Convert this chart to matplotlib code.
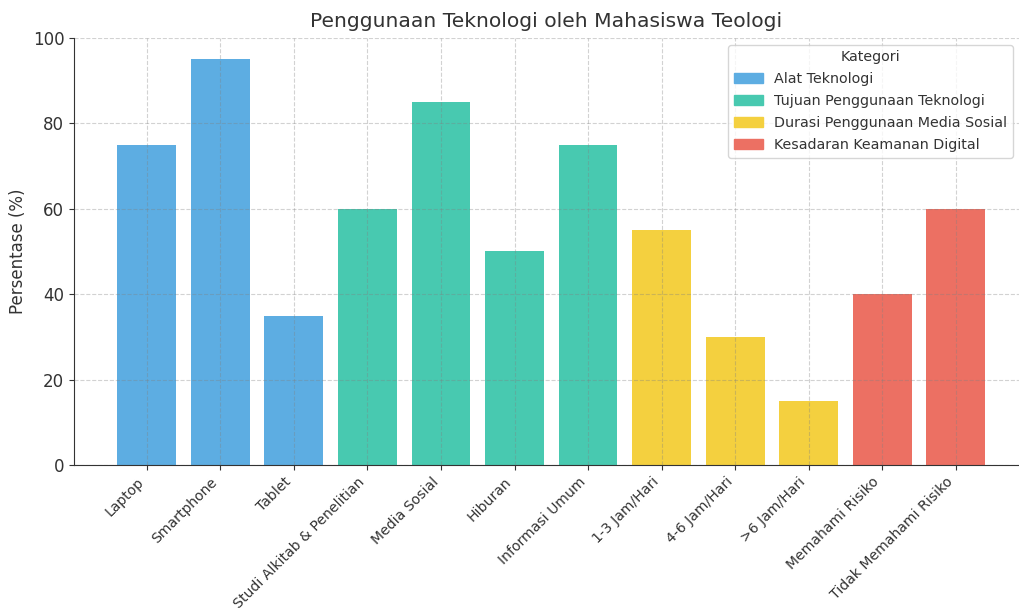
import matplotlib.pyplot as plt
from matplotlib.patches import Patch

labels = ["Laptop", "Smartphone", "Tablet", "Studi Alkitab & Penelitian", "Media Sosial",
          "Hiburan", "Informasi Umum", "1-3 Jam/Hari", "4-6 Jam/Hari", ">6 Jam/Hari",
          "Memahami Risiko", "Tidak Memahami Risiko"]
values = [75, 95, 35, 60, 85, 50, 75, 55, 30, 15, 40, 60]
groups = [0, 0, 0, 1, 1, 1, 1, 2, 2, 2, 3, 3]
group_names = ["Alat Teknologi", "Tujuan Penggunaan Teknologi",
               "Durasi Penggunaan Media Sosial", "Kesadaran Keamanan Digital"]
group_colors = ["#5DADE2", "#48C9B0", "#F4D03F", "#EC7063"]

plt.rcParams['text.color'] = '#333333'
plt.rcParams['axes.labelcolor'] = '#333333'
plt.rcParams['xtick.color'] = '#333333'
plt.rcParams['ytick.color'] = '#333333'

fig = plt.figure(figsize=(10.19, 6.08), dpi=100)
ax = fig.add_axes([74 / 1019, 143 / 608, 1 - 74 / 1019, (465 - 38) / 608])

x = list(range(len(labels)))
ax.bar(x, values, width=0.8, color=[group_colors[g] for g in groups])

ax.set_xlim(-0.99, 11.86)
ax.set_ylim(0, 100)
ax.set_xticks(x)
ax.set_xticklabels(labels, rotation=45, ha='right', fontsize=10.1)
ax.tick_params(axis='y', labelsize=12)
ax.set_ylabel("Persentase (%)", fontsize=12)
ax.set_title("Penggunaan Teknologi oleh Mahasiswa Teologi", fontsize=14.6, pad=8)

ax.grid(True, linestyle='--', color='gray', alpha=0.35, linewidth=0.8)
ax.spines['top'].set_visible(False)
ax.spines['right'].set_visible(False)
ax.spines['left'].set_color('#333333')
ax.spines['bottom'].set_color('#333333')

handles = [Patch(color=c, label=n) for c, n in zip(group_colors, group_names)]
ax.legend(handles=handles, title="Kategori", loc='upper right', fontsize=10.3,
          title_fontsize=10.3, labelspacing=0.56, bbox_to_anchor=(1.001, 1.001))

fig.savefig("out.png", dpi=100)
